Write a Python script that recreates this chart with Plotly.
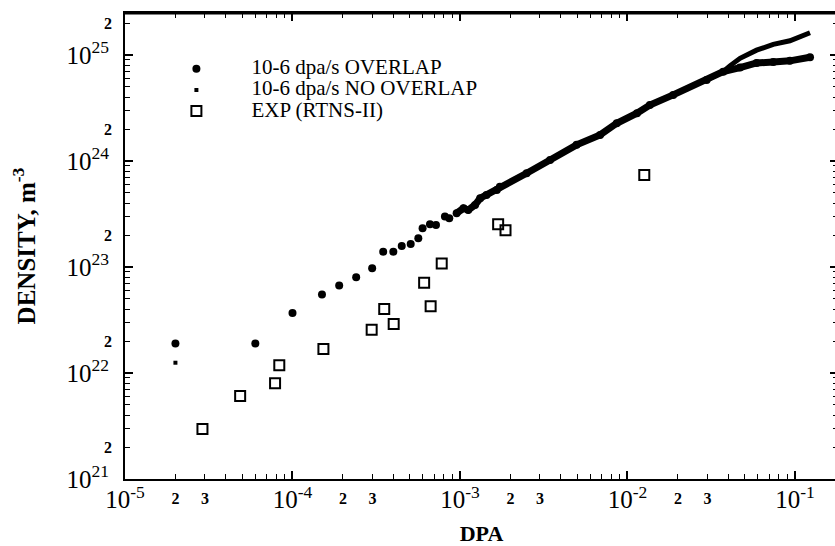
import plotly.graph_objects as go

# ---- data ----
overlap_x = [2e-5, 6e-5, 1e-4, 1.5e-4, 1.9e-4, 2.4e-4, 2.99e-4, 3.48e-4, 4.0e-4,
             4.49e-4, 5.08e-4, 5.64e-4, 5.98e-4, 6.62e-4, 7.19e-4, 8.13e-4, 8.63e-4]
overlap_y = [1.9e22, 1.9e22, 3.68e22, 5.5e22, 6.7e22, 8.0e22, 9.73e22, 1.39e23, 1.39e23,
             1.58e23, 1.65e23, 1.87e23, 2.32e23, 2.53e23, 2.49e23, 2.99e23, 2.88e23]

overlap_dense_x = [9.55e-4, 1.05e-3, 1.12e-3, 1.23e-3, 1.32e-3, 1.44e-3, 1.66e-3, 1.73e-3,
                   2.5e-3, 3.45e-3, 4.97e-3, 6.86e-3, 8.63e-3, 1.14e-2, 1.36e-2, 1.875e-2,
                   2.97e-2, 3.73e-2, 0.047, 0.059, 0.0742, 0.0933, 0.123]
overlap_dense_y = [3.22e23, 3.58e23, 3.45e23, 3.85e23, 4.45e23, 4.78e23, 5.33e23, 5.72e23,
                   7.66e23, 1.02e24, 1.42e24, 1.76e24, 2.27e24, 2.82e24, 3.37e24, 4.2e24,
                   5.81e24, 6.96e24, 7.6e24, 8.4e24, 8.6e24, 8.8e24, 9.51e24]

no_overlap_x = [2e-5]
no_overlap_y = [1.25e22]
no_overlap_branch_x = [2.97e-2, 3.73e-2, 0.0409, 0.047, 0.059, 0.0742, 0.0933, 0.123]
no_overlap_branch_y = [5.81e24, 6.96e24, 7.9e24, 9.3e24, 1.11e25, 1.26e25, 1.36e25, 1.62e25]

exp_x = [2.9e-5, 4.87e-5, 7.87e-5, 8.34e-5, 1.53e-4, 2.97e-4, 3.53e-4, 4.02e-4,
         6.11e-4, 6.68e-4, 7.78e-4, 1.69e-3, 1.87e-3, 1.26e-2]
exp_y = [2.96e21, 6.07e21, 8.0e21, 1.18e22, 1.68e22, 2.56e22, 4.02e22, 2.9e22,
         7.11e22, 4.26e22, 1.08e23, 2.53e23, 2.22e23, 7.38e23]

series_names = ["10-6 dpa/s OVERLAP", "10-6 dpa/s NO OVERLAP", "EXP (RTNS-II)"]

x_decades = [-5, -4, -3, -2, -1]
x_labeled_minor = [2, 3]
y_decades = [21, 22, 23, 24, 25]
y_labeled_minor = [2]

FONT = "Liberation Serif"
X_RANGE = [-5, -0.743]
Y_RANGE = [21, 25.396]

x_major_vals = [10.0 ** d for d in x_decades]
x_major_text = [f"10<sup>{d}</sup>" for d in x_decades]
x_lab_minor_vals = [m * 10.0 ** d for d in x_decades for m in x_labeled_minor]
x_lab_minor_text = [str(m) for d in x_decades for m in x_labeled_minor]
x_minor_vals = [m * 10.0 ** d for d in x_decades for m in range(2, 10)]

y_major_vals = [10.0 ** d for d in y_decades]
y_major_text = [f"10<sup>{d}</sup>" for d in y_decades]
y_lab_minor_vals = [m * 10.0 ** d for d in y_decades for m in y_labeled_minor]
y_lab_minor_text = [str(m) for d in y_decades for m in y_labeled_minor]
y_minor_vals = [m * 10.0 ** d for d in y_decades for m in range(2, 10)]

fig = go.Figure()

fig.add_trace(go.Scatter(x=no_overlap_branch_x, y=no_overlap_branch_y, mode="lines",
                         line=dict(color="black", width=5), showlegend=False,
                         legendgroup="no", hoverinfo="skip"))
fig.add_trace(go.Scatter(x=overlap_dense_x, y=overlap_dense_y, mode="lines+markers",
                         line=dict(color="black", width=7),
                         marker=dict(symbol="circle", size=8, color="black"),
                         showlegend=False, legendgroup="ov"))
LEG = "<span style='font-size:21px'>{}</span>"
fig.add_trace(go.Scatter(x=overlap_x, y=overlap_y, mode="markers",
                         name=LEG.format(series_names[0]), legendgroup="ov",
                         marker=dict(symbol="circle", size=8, color="black")))
fig.add_trace(go.Scatter(x=no_overlap_x, y=no_overlap_y, mode="markers",
                         name=LEG.format(series_names[1]), legendgroup="no",
                         marker=dict(symbol="square", size=4, color="black")))
fig.add_trace(go.Scatter(x=exp_x, y=exp_y, mode="markers",
                         name=LEG.format(series_names[2]),
                         marker=dict(symbol="square-open", size=10, color="black",
                                     line=dict(width=2, color="black"))))

axis_common = dict(
    type="log", showgrid=False, zeroline=False, automargin=False,
    showline=True, linecolor="black", linewidth=2, mirror="ticks",
    ticks="inside", ticklen=8, tickwidth=1.5, tickcolor="black",
    tickfont=dict(family=FONT, size=25, color="black"),
    tickmode="array",
)
minor_common = dict(tickmode="array", ticks="inside", ticklen=5, tickwidth=1.2,
                    tickcolor="black", showgrid=False)

fig.update_layout(
    xaxis=dict(**axis_common, range=X_RANGE, tickvals=x_major_vals, ticktext=x_major_text,
               minor=dict(**minor_common, tickvals=x_minor_vals), ticklabelstandoff=-3,
               title=dict(text="<b>DPA</b>", font=dict(family=FONT, size=22, color="black"),
                          standoff=17)),
    yaxis=dict(**axis_common, range=Y_RANGE, tickvals=y_major_vals, ticktext=y_major_text,
               minor=dict(**minor_common, tickvals=y_minor_vals), ticklabelstandoff=9,
               title=dict(text="<b>DENSITY, m<sup>-3</sup></b>",
                          font=dict(family=FONT, size=25, color="black"), standoff=24)),
    xaxis2=dict(type="log", range=X_RANGE, overlaying="x", anchor="y", side="bottom",
                showgrid=False, zeroline=False, showline=False, automargin=False,
                ticks="", tickmode="array", tickvals=x_lab_minor_vals, ticktext=x_lab_minor_text,
                tickfont=dict(family=FONT, size=16, color="black", weight="bold"),
                ticklabelstandoff=8),
    yaxis2=dict(type="log", range=Y_RANGE, overlaying="y", anchor="x", side="left",
                showgrid=False, zeroline=False, showline=False, automargin=False,
                ticks="", tickmode="array", tickvals=y_lab_minor_vals, ticktext=y_lab_minor_text,
                tickfont=dict(family=FONT, size=16, color="black", weight="bold"),
                ticklabelstandoff=12),
    width=838, height=546,
    margin=dict(l=125, r=0, t=13, b=67, autoexpand=False),
    paper_bgcolor="white", plot_bgcolor="white",
    showlegend=True,
    legend=dict(x=0.023, y=0.914, xanchor="left", yanchor="top",
                bgcolor="rgba(0,0,0,0)", borderwidth=0,
                font=dict(family=FONT, size=14, color="black"),
                itemwidth=100, tracegroupgap=0),
    font=dict(family=FONT, color="black"),
    shapes=[dict(type="line", xref="paper", yref="paper", x0=0, x1=1, y0=1, y1=1,
                 line=dict(color="black", width=3), layer="above")],
)
fig.add_trace(go.Scatter(x=[1e-5], y=[1e21], xaxis="x2", yaxis="y2", mode="markers",
                         marker=dict(opacity=0), showlegend=False, hoverinfo="skip"))

fig.write_html("out.html", config={"displayModeBar": False},
               post_script="document.body.style.margin='0';document.body.style.overflow='hidden';")
